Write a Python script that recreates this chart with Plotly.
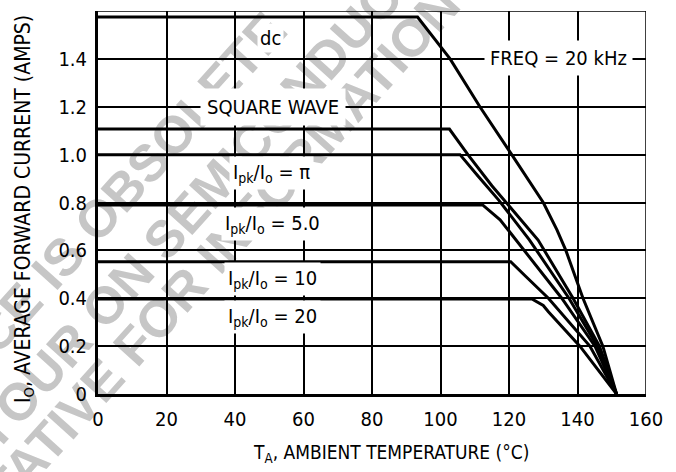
import plotly.graph_objects as go

# ---- derating curves: ambient temperature (°C) vs average forward current (A) ----
temp_dc = [0, 93.3, 102.8, 111.5, 120.8, 130.0, 134.0, 136.6, 141.6, 147.4, 151.4]
curr_dc = [1.575, 1.575, 1.4, 1.2, 1.0, 0.8, 0.686, 0.6, 0.4, 0.2, 0.0]

temp_sq = [0, 102.6, 108.0, 115.0, 128.5, 138.7, 146.4, 151.4]
curr_sq = [1.107, 1.107, 1.0, 0.87, 0.643, 0.4, 0.2, 0.0]

temp_pi = [0, 105.7, 111.0, 117.0, 126.0, 137.5, 145.8, 151.4]
curr_pi = [1.0, 1.0, 0.91, 0.81, 0.643, 0.4, 0.2, 0.0]

temp_5 = [0, 112.3, 117.4, 122.0, 135.4, 145.1, 151.4]
curr_5 = [0.79, 0.79, 0.728, 0.643, 0.4, 0.2, 0.0]

temp_10 = [0, 120.5, 125.0, 131.5, 143.6, 151.4]
curr_10 = [0.553, 0.553, 0.49, 0.4, 0.2, 0.0]

temp_20 = [0, 126.7, 130.0, 131.5, 140.7, 151.4]
curr_20 = [0.397, 0.397, 0.37, 0.344, 0.2, 0.0]

x_ticks = [0, 20, 40, 60, 80, 100, 120, 140, 160]
y_ticks = [0, 0.2, 0.4, 0.6, 0.8, 1.0, 1.2, 1.4, 1.6]
y_tick_text = ["0", "0.2", "0.4", "0.6", "0.8", "1.0", "1.2", "1.4", "1.6"]

curves = [
    (temp_dc, curr_dc, "dc"),
    (temp_sq, curr_sq, "square wave"),
    (temp_pi, curr_pi, "Ipk/Io = pi"),
    (temp_5, curr_5, "Ipk/Io = 5.0"),
    (temp_10, curr_10, "Ipk/Io = 10"),
    (temp_20, curr_20, "Ipk/Io = 20"),
]

FONT = "DejaVu Sans Condensed, Liberation Sans Narrow, Arial Narrow, sans-serif"
W, H = 676, 472
L, R, T, B = 98, 30, 11, 78
PW, PH = W - L - R, H - T - B


def px_to_paper(px, py):
    return (px - L) / PW, (H - B - py) / PH


fig = go.Figure()
for xs, ys, name in curves:
    fig.add_trace(go.Scatter(x=xs, y=ys, mode="lines", name=name,
                             line=dict(color="black", width=3),
                             showlegend=False, hoverinfo="skip"))

# ---- diagonal grey watermark, drawn beneath the grid ----
wm_font = dict(family="Liberation Sans, Arial, sans-serif", size=52, color="#c6c6c6")
wm_lines = [
    ("THIS DEVICE IS OBSOLETE", 41, 274),
    ("YOUR ON SEMICONDUCTOR", 219, 171),
    ("REPRESENTATIVE FOR INFORMATION", 123, 350),
]
for text, cx, cy in wm_lines:
    u, v = px_to_paper(cx, cy)
    fig.add_shape(type="rect", xref="paper", yref="paper",
                  x0=u - 0.001, x1=u + 0.001, y0=v - 0.001, y1=v + 0.001,
                  line=dict(width=0, color="rgba(0,0,0,0)"),
                  fillcolor="rgba(0,0,0,0)", layer="below",
                  label=dict(text="<b>" + text + "</b>", font=wm_font,
                             textangle=-48, textposition="middle center",
                             padding=0))

# plot frame: thin top and right edges
fig.add_shape(type="line", xref="x", yref="y", x0=0, x1=160, y0=1.6, y1=1.6,
              line=dict(color="black", width=1.5))
fig.add_shape(type="line", xref="x", yref="y", x0=160, x1=160, y0=0, y1=1.6,
              line=dict(color="black", width=1.5))

# ---- curve labels with white boxes that break the grid ----
lab_font = dict(family=FONT, size=20, color="black")
labels = [
    ("dc", 50.5, 1.487, 2),
    ("SQUARE WAVE", 51, 1.2, 6),
    ("FREQ = 20 kHz", 134.5, 1.405, 5),
    ("I<sub>pk</sub>/I<sub>o</sub> = \u03c0", 50.8, 0.925, 3),
    ("I<sub>pk</sub>/I<sub>o</sub> = 5.0", 51.0, 0.71, 3),
    ("I<sub>pk</sub>/I<sub>o</sub> = 10", 51.0, 0.48, 3),
    ("I<sub>pk</sub>/I<sub>o</sub> = 20", 51.0, 0.32, 3),
]
for text, x, y, pad in labels:
    fig.add_annotation(x=x, y=y, xref="x", yref="y", text=text, showarrow=False,
                       font=lab_font, bgcolor="white", borderpad=pad,
                       xanchor="center", yanchor="middle")

# axis titles
fig.add_annotation(x=px_to_paper(391, 0)[0], y=px_to_paper(0, 454)[1],
                   xref="paper", yref="paper", showarrow=False,
                   text="T<sub>A</sub>, AMBIENT TEMPERATURE (\u00b0C)",
                   font=dict(family=FONT, size=19, color="black"),
                   xanchor="center", yanchor="middle")
fig.add_annotation(x=px_to_paper(24, 0)[0], y=px_to_paper(0, 209)[1],
                   xref="paper", yref="paper", showarrow=False, textangle=-90,
                   text="I<sub>O</sub>, AVERAGE FORWARD CURRENT (AMPS)",
                   font=dict(family=FONT, size=21, color="black"),
                   xanchor="center", yanchor="middle")

fig.update_xaxes(range=[0, 160], tickvals=x_ticks, showgrid=True,
                 gridcolor="black", gridwidth=1.5, zeroline=False,
                 showline=True, linecolor="black", linewidth=3,
                 ticks="", ticklabelstandoff=5,
                 tickfont=dict(family=FONT, size=20, color="black"))
fig.update_yaxes(range=[0, 1.6], tickvals=y_ticks, ticktext=y_tick_text,
                 showgrid=True, gridcolor="black", gridwidth=1.5, zeroline=False,
                 showline=True, linecolor="black", linewidth=3,
                 ticks="", ticklabelstandoff=4,
                 tickfont=dict(family=FONT, size=20, color="black"))

fig.update_layout(width=W, height=H, margin=dict(l=L, r=R, t=T, b=B),
                  paper_bgcolor="white", plot_bgcolor="white",
                  showlegend=False)

fig.write_html("out.html")
